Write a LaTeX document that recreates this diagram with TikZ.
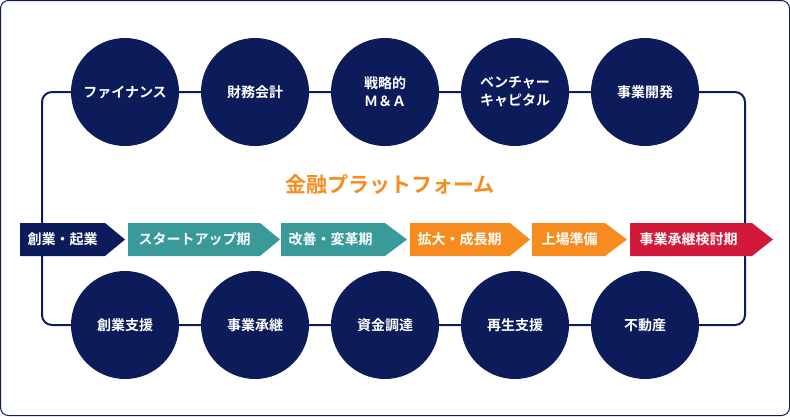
\documentclass[tikz,border=0pt]{standalone}
\usepackage{fontspec}
\setmainfont{Noto Sans CJK JP}
\newfontfamily\jpb{Noto Sans CJK JP Bold}
\definecolor{navy}{HTML}{0C1B5A}
\definecolor{tealc}{HTML}{3A9A9A}
\definecolor{orng}{HTML}{F68B1F}
\definecolor{redc}{HTML}{D3193A}
\begin{document}
\begin{tikzpicture}[x=1pt,y=-1pt,
  circ/.style={circle,fill=navy,minimum size=108pt,inner sep=0pt,text=white,font=\jpb\fontsize{14}{18}\selectfont,align=center},
  lbl/.style={text=white,font=\jpb\fontsize{14}{16}\selectfont,anchor=west}]
\useasboundingbox (0,0) rectangle (790,416);
\draw[navy,line width=1pt,rounded corners=8pt] (0.5,0.5) rectangle (789.5,415.5);
\draw[navy,line width=2pt,rounded corners=10pt] (42,92) rectangle (745,325);
\foreach \x/\t/\n in {125/ファイナンス/a1,255/財務会計/a2,385/{戦略的\\Ｍ＆Ａ}/a3,515/{ベンチャー\\キャピタル}/a4,645/事業開発/a5}
  \node[circ] (\n) at (\x,92) {\t};
\foreach \x/\t/\n in {125/創業支援/b1,255/事業承継/b2,385/資金調達/b3,515/再生支援/b4,645/不動産/b5}
  \node[circ] (\n) at (\x,325) {\t};
\node[text=orng,font=\jpb\fontsize{21}{23}\selectfont] (title) at (390,185) {金融プラットフォーム};
\foreach \a/\b/\c/\col/\t/\n/\o in {20/105/125/navy/創業・起業/s1/4,128/260/280/tealc/スタートアップ期/s2/7,281/385/407/tealc/改善・変革期/s3/4,410/510/530/orng/拡大・成長期/s4/4,532/605/627/orng/上場準備/s5/6,630/752/773/redc/事業承継検討期/s6/6}{
  \fill[\col] (\a,223) -- (\b,223) -- (\c,239.5) -- (\b,256) -- (\a,256) -- cycle;
  \node[lbl] (\n) at (\a+\o,239.5) {\t};
}
\end{tikzpicture}
\end{document}
